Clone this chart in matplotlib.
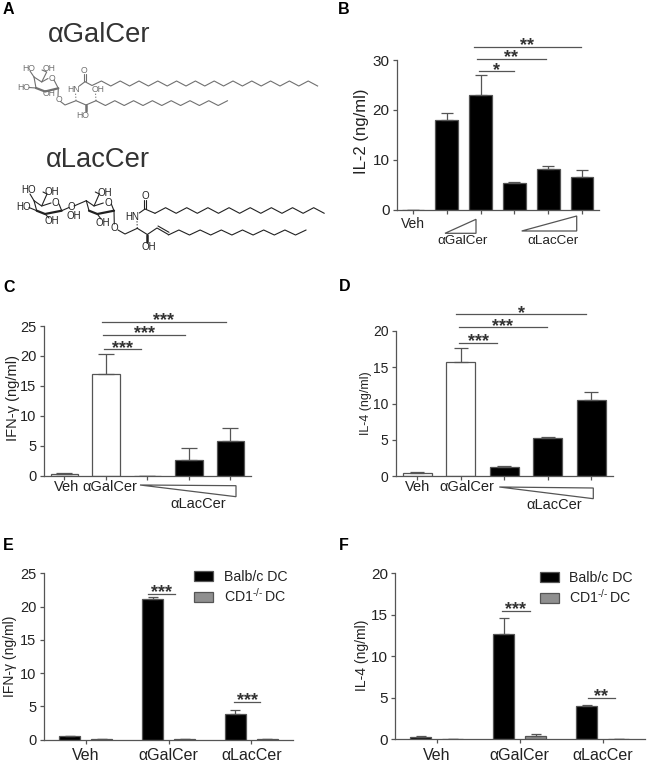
import numpy as np
import matplotlib
matplotlib.use('Agg')
import matplotlib.pyplot as plt
from matplotlib.patches import Polygon

plt.rcParams['font.family'] = ['Liberation Sans', 'DejaVu Sans']
plt.rcParams['mathtext.default'] = 'regular'

W, H = 649, 766
LINE = '#555555'
TEXT = '#222222'

# ---------------------------------------------------------------- data
b_means = [0, 17.9, 23.0, 5.4, 8.2, 6.5]
b_upper = [0, 19.4, 26.9, 5.6, 8.8, 8.0]
b_fill = ['black'] * 6
b_brackets = [(1.81, 4.96, 32.7, '**'), (1.89, 3.93, 30.3, '**'), (1.95, 3.00, 27.7, '*')]

c_means = [0.3, 17.0, 0, 2.6, 5.8]
c_upper = [0.5, 20.4, 0, 4.7, 8.0]
c_fill = ['white', 'white', 'black', 'black', 'black']
c_brackets = [(0.90, 3.90, 25.7, '***'), (0.94, 2.91, 23.5, '***'), (0.96, 1.84, 21.1, '***')]

d_means = [0.4, 15.7, 1.3, 5.3, 10.5]
d_upper = [0.5, 17.7, 1.4, 5.4, 11.6]
d_fill = ['white', 'white', 'black', 'black', 'black']
d_brackets = [(0.90, 3.88, 22.3, '*'), (0.95, 2.99, 20.5, '***'), (0.97, 1.84, 18.4, '***')]

groups = ['Veh', 'αGalCer', 'αLacCer']
e_balb = [0.5, 21.2, 3.8]
e_balb_upper = [0.55, 21.4, 4.5]
e_cd1 = [0.05, 0.05, 0.05]
e_cd1_upper = [0.05, 0.05, 0.05]
e_brackets = [(0.75, 1.08, 21.9, '***'), (1.795, 2.10, 5.7, '***')]

f_balb = [0.3, 12.7, 4.0]
f_balb_upper = [0.35, 14.6, 4.1]
f_cd1 = [0.05, 0.4, 0.05]
f_cd1_upper = [0.05, 0.6, 0.05]
f_brackets = [(0.79, 1.12, 15.5, '***'), (1.82, 2.15, 5.0, '**')]

fig = plt.figure(figsize=(W / 100, H / 100), dpi=100)

# full figure axes in pixels, for the structures and hand placed labels
over = fig.add_axes([0, 0, 1, 1])
over.set_xlim(0, W)
over.set_ylim(H, 0)
over.axis('off')


def make_axes(left, right, top, bottom, c0, spacing, ymax, yticks, ylabel, label_x, label_y, fs, label_fs):
    ax = fig.add_axes([left / W, 1 - bottom / H, (right - left) / W, (bottom - top) / H])
    ax.patch.set_alpha(0)
    ax.set_xlim((left - c0) / spacing, (right - c0) / spacing)
    ax.set_ylim(0, ymax)
    ax.set_yticks(yticks)
    for s in ['top', 'right']:
        ax.spines[s].set_visible(False)
    for s in ['left', 'bottom']:
        ax.spines[s].set_color(LINE)
        ax.spines[s].set_linewidth(0.9)
    ax.tick_params(axis='both', color=LINE, width=0.9, length=3.2, labelsize=fs, labelcolor=TEXT, pad=2)
    ax.set_ylabel(ylabel, fontsize=label_fs, color=TEXT, va='center')
    ax.yaxis.set_label_coords((label_x - left) / (right - left), (bottom - label_y) / (bottom - top))
    return ax


def bars(ax, x, means, upper, fill, width, cap=4.0, **kw):
    means = np.array(means, dtype=float)
    upper = np.array(upper, dtype=float)
    err = [np.zeros_like(means), upper - means]
    return ax.bar(x, means, width, color=fill, edgecolor=LINE, linewidth=0.9, yerr=err,
                  error_kw=dict(ecolor=LINE, elinewidth=0.9, capsize=cap, capthick=0.9), **kw)


def brackets(ax, items, size=13):
    for x0, x1, y, stars in items:
        ax.plot([x0, x1], [y, y], color=LINE, lw=0.9, clip_on=False)
        ax.annotate(stars, ((x0 + x1) / 2, y), xytext=(0, -2.4), textcoords='offset points', ha='center',
                    va='baseline', fontsize=size, fontweight='bold', color='#333333', annotation_clip=False)


def label(x, y, s, fs=10, **kw):
    kw.setdefault('color', TEXT)
    over.text(x, y, s, fontsize=fs, ha='center', va='center', **kw)


def wedge_tri(pts):
    over.add_patch(Polygon(pts, closed=True, facecolor='white', edgecolor=LINE, linewidth=0.9))


# ---------------------------------------------------------------- B
ax_b = make_axes(396.7, 599.3, 60, 209.5, 413, 33.8, 30, [0, 10, 20, 30], 'IL-2 (ng/ml)', 362, 131.7, 11, 12)
bars(ax_b, range(6), b_means, b_upper, b_fill, 0.67, cap=4.3)
ax_b.set_xticks(range(6))
ax_b.set_xticklabels([])
brackets(ax_b, b_brackets)
label(413, 224, 'Veh', 10)
label(462.3, 240.7, 'αGalCer', 9.7)
label(552.7, 240.7, 'αLacCer', 9.7)
wedge_tri([(445, 233.3), (476, 219.3), (476, 233.3)])
wedge_tri([(521.7, 231), (576.7, 216), (576.7, 231)])

# ---------------------------------------------------------------- C
ax_c = make_axes(43.7, 251.3, 326, 475.7, 64.3, 41.5, 25, range(0, 30, 5), 'IFN-γ (ng/ml)', 13.3, 398, 10.5, 10.5)
bars(ax_c, range(5), c_means, c_upper, c_fill, 0.665, cap=5.5)
ax_c.set_xticks(range(5))
ax_c.set_xticklabels([])
brackets(ax_c, c_brackets)
label(66.7, 487.3, 'Veh', 10.5)
label(110, 487.3, 'αGalCer', 10.5)
label(198.3, 504.3, 'αLacCer', 10.5)
wedge_tri([(140, 485), (236, 485.7), (236, 496.7)])

# ---------------------------------------------------------------- D
ax_d = make_axes(395.7, 613.3, 331, 476, 417.3, 43.5, 20, range(0, 25, 5), 'IL-4 (ng/ml)', 366, 403.3, 10, 9)
bars(ax_d, range(5), d_means, d_upper, d_fill, 0.67, cap=5.3)
ax_d.set_xticks(range(5))
ax_d.set_xticklabels([])
brackets(ax_d, d_brackets)
label(417.7, 486.7, 'Veh', 10.5)
label(467.3, 486.7, 'αGalCer', 10.5)
label(554, 505.3, 'αLacCer', 10.5)
wedge_tri([(499.3, 487), (593.3, 488), (593.3, 498.7)])

# ---------------------------------------------------------------- E and F
x = np.arange(3)
off = 0.193
bw = 0.2575

ax_e = make_axes(43.7, 293.3, 573.3, 739.7, 85.7, 82.83, 25, range(0, 30, 5), 'IFN-γ (ng/ml)', 10, 656, 10.5, 10)
bars(ax_e, x - off, e_balb, e_balb_upper, 'black', bw, cap=3.9, label='Balb/c DC')
bars(ax_e, x + off, e_cd1, e_cd1_upper, '#8f8f8f', bw, cap=3.9, label='CD1$^{‐/‐}\\,$DC')
ax_e.set_xticks(x)
ax_e.set_xticklabels(groups)
brackets(ax_e, e_brackets)

ax_f = make_axes(395.3, 645, 573.3, 739.3, 436.7, 83, 20, range(0, 25, 5), 'IL-4 (ng/ml)', 362, 655, 11, 10)
bars(ax_f, x - off, f_balb, f_balb_upper, 'black', bw, cap=3.9, label='Balb/c DC')
bars(ax_f, x + off, f_cd1, f_cd1_upper, '#8f8f8f', bw, cap=3.9, label='CD1$^{‐/‐}\\,$DC')
ax_f.set_xticks(x)
ax_f.set_xticklabels(groups)
brackets(ax_f, f_brackets)

for ax, lx, ly in [(ax_e, 194.3, 570), (ax_f, 540, 571)]:
    ax.tick_params(axis='x', labelsize=11.5, pad=3)
    ax.legend(loc='upper left', bbox_to_anchor=(lx, ly), bbox_transform=over.transData, frameon=False,
              fontsize=10.2, handlelength=1.32, handleheight=0.72, handletextpad=0.76, labelspacing=0.2,
              borderpad=0, borderaxespad=0, labelcolor=TEXT)

# ---------------------------------------------------------------- A, structures


def zigzag(x0, y0, y1, step, n):
    # carbon chain, alternating between y0 and y1
    xs = x0 + step * np.arange(n + 1)
    ys = np.where(np.arange(n + 1) % 2 == 0, y0, y1)
    return xs, ys


def bond(pts, color, lw=0.8, **kw):
    pts = np.array(pts)
    over.plot(pts[:, 0], pts[:, 1], color=color, lw=lw, solid_capstyle='round', **kw)


def atom(x, y, s, color, fs=6.2):
    over.text(x, y, s, fontsize=fs, color=color, ha='center', va='center')


gal = '#707070'
over.text(47.7, 41.7, 'αGalCer', fontsize=19.7, color='#333333', va='baseline')
xs, ys = zigzag(101.4, 81, 86, 9.4, 23)
over.plot(np.r_[85, 92, xs], np.r_[81.7, 85.5, ys], color=gal, lw=0.8)
xs, ys = zigzag(96, 100.7, 105.5, 9.4, 14)
bond(np.c_[xs, ys], gal)
bond([(60.5, 101.5), (65, 105), (76, 100.7), (86, 105), (96, 100.7)], gal)
bond([(79.3, 86), (85, 81.7)], gal)
bond([(84, 81), (84, 74)], gal)
bond([(86, 81), (86, 74)], gal)
bond([(76, 100.7), (75.5, 93)], gal, ls=':')
bond([(96, 100.7), (95.5, 93.5)], gal, ls=':')
bond([(86, 105), (86, 111)], gal, lw=1.8)
# galactose ring
bond([(34, 77), (41.7, 82), (48, 78.5)], gal)
bond([(54, 80), (58.3, 88.3)], gal)
bond([(34, 77), (36, 88)], gal)
bond([(36, 88), (45, 91.5), (58.3, 88.3)], gal, lw=1.6)
bond([(41.7, 82), (46.7, 72), (42, 70)], gal)
bond([(34, 77), (30, 71)], gal)
bond([(36, 88), (29, 87.5)], gal)
bond([(45, 91.5), (49, 91)], gal)
bond([(58.3, 88.3), (58, 96)], gal)
for ax_, ay, s in [(29, 68.3, 'HO'), (49.5, 68.3, 'OH'), (23.5, 87.3, 'HO'), (49.5, 93, 'OH'), (51.7, 78.3, 'O'),
                   (59, 100, 'O'), (73.3, 89.3, 'HN'), (84, 70.7, 'O'), (98.3, 90, 'OH'), (82.7, 116, 'HO')]:
    atom(ax_, ay, s, gal)

lac = '#222222'
over.text(46, 166.7, 'αLacCer', fontsize=19.7, color='#333333', va='baseline')
xs, ys = zigzag(155, 213.3, 207.7, 10.58, 16)
bond(np.c_[xs, ys], lac)
xs, ys = zigzag(168.3, 235, 230, 10.6, 13)
bond(np.c_[xs, ys], lac)
bond([(139.3, 213), (145, 209), (155, 213.3)], lac)
bond([(144, 209), (144, 200)], lac)
bond([(146, 209), (146, 200)], lac)
bond([(118, 230), (125, 234), (137.3, 228.3), (147.3, 234.5), (157, 228), (168.3, 234.5)], lac)
bond([(158, 226), (169, 232.3)], lac)
bond([(137.3, 228.3), (137, 221)], lac, ls=':')
bond([(147.3, 234.5), (147.3, 241.5)], lac, lw=1.8)
# the two sugar rings
for dx in [0, 52.3]:
    bond([(34 + dx, 200.7), (41.7 + dx, 206), (51 + dx, 203)], lac)
    bond([(59 + dx, 204), (61.7 + dx, 210.7)], lac)
    bond([(34 + dx, 200.7), (36.7 + dx, 210.7)], lac)
    bond([(36.7 + dx, 210.7), (45 + dx, 214), (61.7 + dx, 210.7)], lac, lw=1.6)
    bond([(41.7 + dx, 206), (47 + dx, 194), (43 + dx, 192)], lac)
bond([(30, 194), (34, 200.7)], lac)
bond([(29, 207.5), (36.7, 210.7)], lac)
bond([(45, 214), (49, 218)], lac)
bond([(61.7, 210.7), (69, 207.5)], lac)
bond([(74, 206), (86.3, 200.7)], lac)
bond([(97.3, 214), (101, 219)], lac)
bond([(114, 210.7), (114.3, 224)], lac)
for ax_, ay, s in [(28.3, 190, 'HO'), (52, 191.7, 'OH'), (23.5, 207.3, 'HO'), (51.7, 220.7, 'OH'), (55.7, 202.7, 'O'),
                   (71.7, 206.7, 'O'), (74, 215.7, 'OH'), (105, 193, 'OH'), (108.3, 202.7, 'O'), (102.7, 222.7, 'OH'),
                   (114.3, 227.7, 'O'), (131.7, 216.7, 'HN'), (145, 195.7, 'O'), (148.7, 247.3, 'OH')]:
    atom(ax_, ay, s, lac, fs=7)

# ---------------------------------------------------------------- panel letters
for lx, ly, s in [(3, 9, 'A'), (338, 9, 'B'), (3, 287.3, 'C'), (339, 286.7, 'D'), (3, 545, 'E'), (339, 545, 'F')]:
    over.text(lx, ly, s, fontsize=11.5, fontweight='bold', color='black', ha='left', va='center')

fig.savefig('out.png', dpi=100)
